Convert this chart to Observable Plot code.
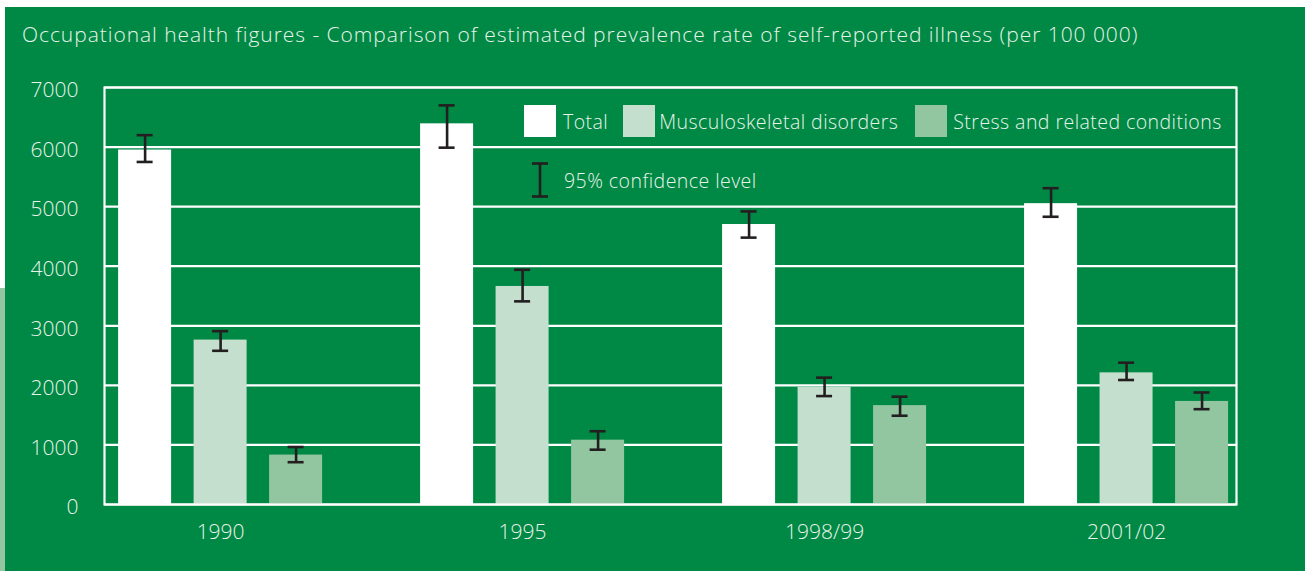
<!DOCTYPE html>
<html>
<head>
<meta charset="utf-8">
<script src="https://cdn.jsdelivr.net/npm/d3@7"></script>
<script src="https://cdn.jsdelivr.net/npm/@observablehq/plot@0.6"></script>
<style>
  html, body { margin: 0; padding: 0; background: #ffffff; }
  body { width: 1305px; height: 571px; position: relative; overflow: hidden; font-family: "Open Sans", sans-serif; }
  #strip { position: absolute; left: 0; top: 288px; width: 5px; height: 283px; background: #93c6a1; }
  #panel { position: absolute; left: 5px; top: 7px; width: 1300px; height: 564px; background: #008944; }
  #title { position: absolute; left: 17px; top: 14px; font-size: 21px; font-weight: 300; letter-spacing: 0.95px; color: #e8f3eb; white-space: nowrap; line-height: 26px; }
  #chart { position: absolute; left: 0; top: 53px; }
  .leg { position: absolute; display: flex; align-items: center; color: #e8f3eb; font-size: 19.5px; font-weight: 300; letter-spacing: 0.45px; white-space: nowrap; }
  .sw { width: 32px; height: 32px; display: inline-block; }
</style>
</head>
<body>
<div id="strip"></div>
<div id="panel">
  <div id="title">Occupational health figures - Comparison of estimated prevalence rate of self-reported illness (per 100 000)</div>
  <div id="chart"></div>
  <div class="leg" id="leg1" style="left:519px; top:98px;"></div>
  <div class="leg" id="leg2" style="left:526px; top:155px;"></div>
</div>
<script>
// ---- data ----
const groups = ["1990", "1995", "1998/99", "2001/02"];
const series = ["Total", "Musculoskeletal disorders", "Stress and related conditions"];
const colors = ["#ffffff", "#c4dfcd", "#92c6a0"];

const totalValues = [5950, 6390, 4700, 5050];
const totalLow    = [5750, 5990, 4480, 4830];
const totalHigh   = [6200, 6700, 4920, 5310];

const msdValues = [2760, 3660, 1970, 2210];
const msdLow    = [2580, 3410, 1820, 2090];
const msdHigh   = [2910, 3940, 2130, 2380];

const stressValues = [830, 1080, 1660, 1730];
const stressLow    = [710, 920, 1490, 1600];
const stressHigh   = [965, 1230, 1810, 1880];

const yTicks = [0, 1000, 2000, 3000, 4000, 5000, 6000, 7000];
const ciLabel = "95% confidence level";

// ---- build table ----
const vals = [totalValues, msdValues, stressValues];
const lows = [totalLow, msdLow, stressLow];
const highs = [totalHigh, msdHigh, stressHigh];
const rows = [];
groups.forEach((g, gi) => {
  series.forEach((s, si) => {
    rows.push({slot: `${gi}-${si}`, group: g, series: s, value: vals[si][gi], low: lows[si][gi], high: highs[si][gi]});
  });
});
const slots = [];
groups.forEach((g, gi) => {
  series.forEach((s, si) => slots.push(`${gi}-${si}`));
  if (gi < groups.length - 1) slots.push(`${gi}-gap`);
});
const labelSlots = groups.map((g, gi) => `${gi}-1`);
const slotLabel = new Map(groups.map((g, gi) => [`${gi}-1`, g]));

const txt = "#e8f3eb";
const err = "#231f20";

const plot = Plot.plot({
  width: 1300,
  height: 500,
  marginLeft: 99,
  marginRight: 69,
  marginTop: 27,
  marginBottom: 56,
  style: {background: "transparent", fontFamily: "Open Sans, sans-serif", fontSize: "21px", fontWeight: 300, color: txt, overflow: "visible"},
  x: {domain: slots, paddingInner: 0.298, paddingOuter: 0.146, align: 0.64, round: false, axis: null, label: null},
  y: {domain: [0, 7000], axis: null, label: null},
  color: {domain: series, range: colors},
  marks: [
    Plot.gridY(yTicks, {stroke: "white", strokeOpacity: 1, strokeWidth: 2.2}),
    Plot.barY(rows, {x: "slot", y: "value", fill: "series"}),
    Plot.frame({stroke: "white", strokeWidth: 2.2}),
    Plot.ruleX(rows, {x: "slot", y1: "low", y2: "high", stroke: err, strokeWidth: 2.6}),
    Plot.tickY(rows, {x: "slot", y: "low", stroke: err, strokeWidth: 2.6, insetLeft: 18.5, insetRight: 18.5}),
    Plot.tickY(rows, {x: "slot", y: "high", stroke: err, strokeWidth: 2.6, insetLeft: 18.5, insetRight: 18.5}),
    Plot.axisY({ticks: yTicks, tickSize: 0, tickPadding: 26, fill: txt, fontSize: 21, dy: 3, label: null, tickFormat: d => String(d)}),
    Plot.axisX({ticks: labelSlots, tickSize: 0, tickPadding: 20, fill: txt, fontSize: 21, label: null, tickFormat: d => slotLabel.get(d)})
  ]
});
document.getElementById("chart").appendChild(plot);

// ---- legend (overlay inside the plot area) ----
const leg1 = document.getElementById("leg1");
const swGap = [7, 4, 6];
const gaps = [15, 17, 0];
series.forEach((s, i) => {
  const sw = document.createElement("span");
  sw.className = "sw";
  sw.style.background = colors[i];
  sw.style.marginRight = swGap[i] + "px";
  const t = document.createElement("span");
  t.textContent = s;
  t.style.marginRight = gaps[i] + "px";
  leg1.appendChild(sw);
  leg1.appendChild(t);
});
const leg2 = document.getElementById("leg2");
leg2.innerHTML = `<svg width="18" height="36" style="margin-right:15px"><g stroke="${err}" stroke-width="2.6"><line x1="1" x2="17" y1="1.5" y2="1.5"/><line x1="1" x2="17" y1="34.5" y2="34.5"/><line x1="9" x2="9" y1="1.5" y2="34.5"/></g></svg><span>${ciLabel}</span>`;
</script>
</body>
</html>
